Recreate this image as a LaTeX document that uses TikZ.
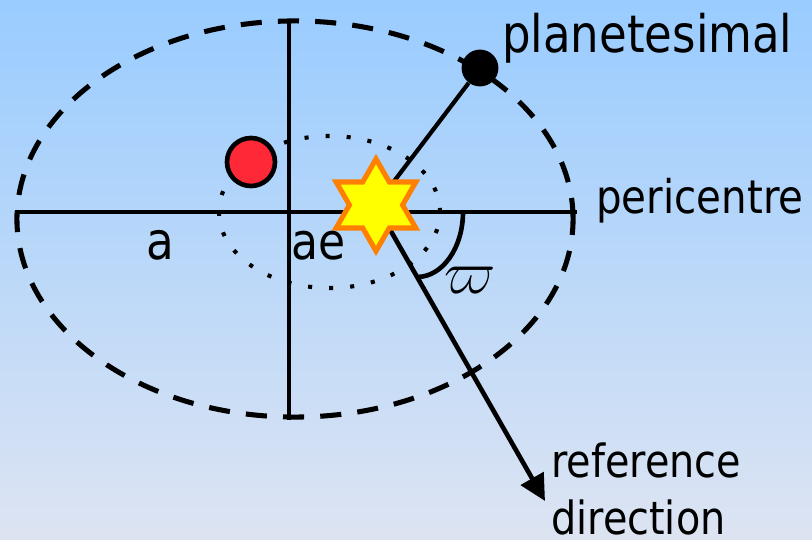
\documentclass[tikz,border=0pt]{standalone}
\usepackage{amsmath,amssymb}
\usepackage{fontspec}
\setmainfont[FakeStretch=0.87]{DejaVu Sans}
\usetikzlibrary{shapes.geometric,arrows.meta}
\definecolor{bgtop}{RGB}{153,204,255}
\definecolor{bgbottom}{RGB}{221,228,242}
\definecolor{bodyred}{RGB}{255,40,55}
\definecolor{staryellow}{RGB}{255,255,0}
\definecolor{starorange}{RGB}{255,128,0}

\begin{document}
\begin{tikzpicture}[x=0.025cm,y=-0.025cm,
  orbit/.style={line width=3.6pt,dash pattern=on 15pt off 11.5pt},
  inner orbit/.style={line width=2.9pt,dash pattern=on 2.9pt off 12.1pt},
  axis line/.style={line width=3.3pt},
  big label/.style={inner sep=0pt,anchor=base west}]
  \shade[top color=bgtop,bottom color=bgbottom] (0,0) rectangle (812,540);
  \useasboundingbox (0,0) rectangle (812,540);
  % orbit of the planetesimal and of the inner body
  \draw[orbit] (295,219) ellipse [x radius=6.95cm,y radius=4.95cm];
  \draw[inner orbit] (329.5,212) ellipse [x radius=2.7625cm,y radius=1.9cm];
  \coordinate (apo) at (15,212);
  \coordinate (peri) at (577,212);
  \coordinate (top) at (289,21);
  \coordinate (bottom) at (289,420);
  \coordinate (focus) at (376,205);
  \coordinate (refend) at (545,501);
  \draw[axis line] (apo)--(peri);
  \draw[axis line] (top)--(bottom);
  \draw[line width=3.3pt] (463,212) arc[start angle=0,end angle=-90,x radius=1.15cm,y radius=1.625cm];
  \node[circle,fill=black,inner sep=0pt,minimum size=0.92cm] (planet) at (480,68) {};
  \draw[line width=3pt] (focus)--(planet);
  \draw[line width=3.3pt,-{Triangle[length=0.65cm,width=0.64cm]}] (focus)--(refend);
  \node[circle,fill=bodyred,draw=black,line width=3.3pt,inner sep=0pt,minimum size=1.2cm] (body) at (251,162) {};
  \node[star,star points=6,star point ratio=1.732,minimum size=2.3cm,inner sep=0pt,
        fill=staryellow,draw=starorange,line width=3.6pt] (sun) at (focus) {};
  % labels
  \node[big label,font=\fontsize{36.8}{40}\selectfont] (planetlabel) at (502,52) {planetesimal};
  \node[big label,font=\fontsize{33}{40}\selectfont] (perilabel) at (596,213) {pericentre};
  \node[big label,anchor=base,font=\fontsize{37}{40}\selectfont] (alabel) at (160.5,259) {a};
  \node[big label,anchor=base,font=\fontsize{36}{40}\selectfont] (aelabel) at (318.5,259) {ae};
  \node[inner sep=0pt,scale=1.75,font=\fontsize{24}{29}\selectfont] (varpilabel) at (470,280) {$\varpi$};
  \node[big label,font=\fontsize{32.5}{40}\selectfont] (reflabel) at (551,477) {reference};
  \node[big label,font=\fontsize{32.5}{40}\selectfont] (dirlabel) at (551,534) {direction};
\end{tikzpicture}
\end{document}
